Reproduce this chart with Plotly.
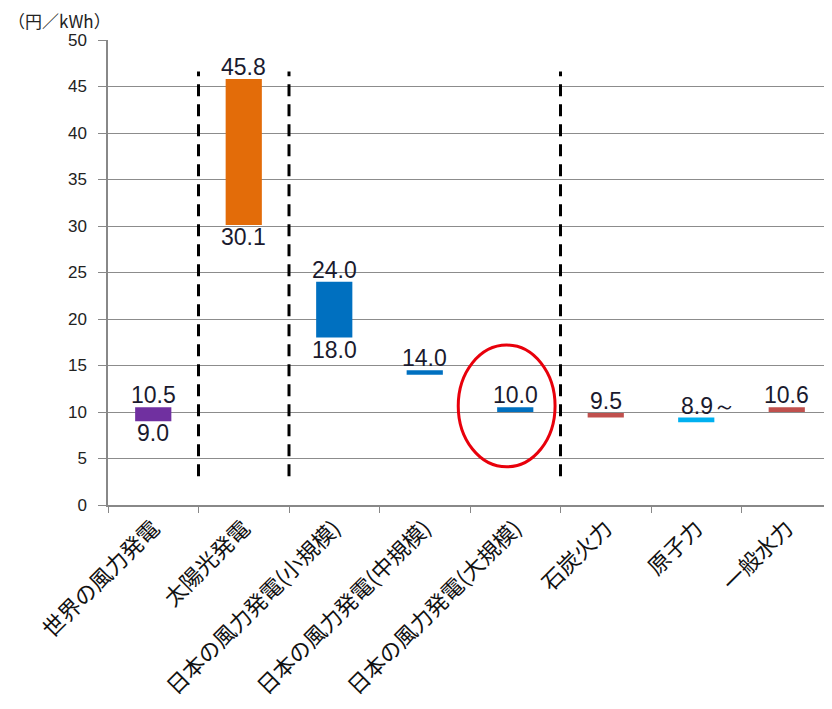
import plotly.graph_objects as go

categories = ["世界の風力発電", "太陽光発電", "日本の風力発電(小規模)", "日本の風力発電(中規模)",
              "日本の風力発電(大規模)", "石炭火力", "原子力", "一般水力"]
low_values = [9.0, 30.1, 18.0, 14.0, 10.0, 9.4, 8.9, 10.0]
high_values = [10.5, 45.8, 24.0, 14.5, 10.5, 9.9, 9.4, 10.5]
top_labels = ["10.5", "45.8", "24.0", "14.0", "10.0", "9.5", "8.9～", "10.6"]
bottom_labels = ["9.0", "30.1", "18.0", "", "", "", "", ""]
bar_colors = ["#7030A0", "#E36C09", "#0070C0", "#0070C0", "#0070C0", "#C0504D", "#00B0F0", "#C0504D"]
divider_after = [0, 1, 4]          # dashed separators after these category indices
divider_span = [3.1, 46.6]         # y-range of separators
highlight_index = 4                # circled category
highlight_span = [4.1, 17.2]       # y-range of circle
y_ticks = [0, 5, 10, 15, 20, 25, 30, 35, 40, 45, 50]

fig = go.Figure()
fig.add_trace(go.Bar(
    x=categories,
    y=[h - l for h, l in zip(high_values, low_values)],
    base=low_values,
    marker=dict(color=bar_colors, line=dict(width=0)),
    width=0.4,
    hoverinfo="skip",
))

label_font = dict(family="Liberation Sans, Arial", size=23, color="#1a1a2e")
for i, (c, h, l, tl, bl) in enumerate(zip(categories, high_values, low_values, top_labels, bottom_labels)):
    if tl:
        is_tilde = tl.endswith("～")
        fig.add_annotation(x=c, y=h, text=tl, showarrow=False, yanchor="bottom",
                           xanchor="center", xshift=12 if is_tilde else 0,
                           font=label_font, yshift=-3)
    if bl:
        fig.add_annotation(x=c, y=l, text=bl, showarrow=False, yanchor="top",
                           xanchor="center", font=label_font, yshift=3)

for d in divider_after:
    fig.add_shape(type="line", xref="x", yref="y", x0=d + 0.5, x1=d + 0.5,
                  y0=divider_span[0], y1=divider_span[1],
                  line=dict(color="black", width=3, dash="12px,8px"))

fig.add_shape(type="circle", xref="x", yref="y",
              x0=highlight_index - 0.63, x1=highlight_index + 0.44,
              y0=highlight_span[0], y1=highlight_span[1],
              line=dict(color="#E8000B", width=3))

fig.add_annotation(xref="paper", yref="paper", x=-0.14, y=1.0, yshift=33,
                   xanchor="left", yanchor="top", text="（円／kWh）", showarrow=False,
                   borderpad=0,
                   font=dict(family="Noto Sans CJK JP", size=17, color="#222"))

fig.update_layout(
    width=824, height=701,
    margin=dict(l=100, r=0, t=32, b=204, autoexpand=False),
    paper_bgcolor="white", plot_bgcolor="white",
    showlegend=False,
    bargap=0.6,
    xaxis=dict(
        type="category", tickangle=-45, tickson="boundaries",
        ticks="outside", ticklen=6, tickcolor="#888",
        showline=True, linecolor="#888", linewidth=1.5,
        showgrid=False, automargin=False,
        tickfont=dict(family="Noto Sans CJK JP", size=22, color="#111"),
        range=[-0.5, len(categories) - 0.5],
    ),
    yaxis=dict(
        range=[0, 50], tickvals=y_ticks,
        ticks="outside", ticklen=8, tickcolor="#888",
        showline=True, linecolor="#888", linewidth=1.5,
        showgrid=True, gridcolor="#8c8c8c", gridwidth=1,
        zeroline=False, automargin=False, ticklabelstandoff=8,
        tickfont=dict(family="Liberation Sans, Arial", size=17, color="#222"),
    ),
)

fig.write_html("out.html")
